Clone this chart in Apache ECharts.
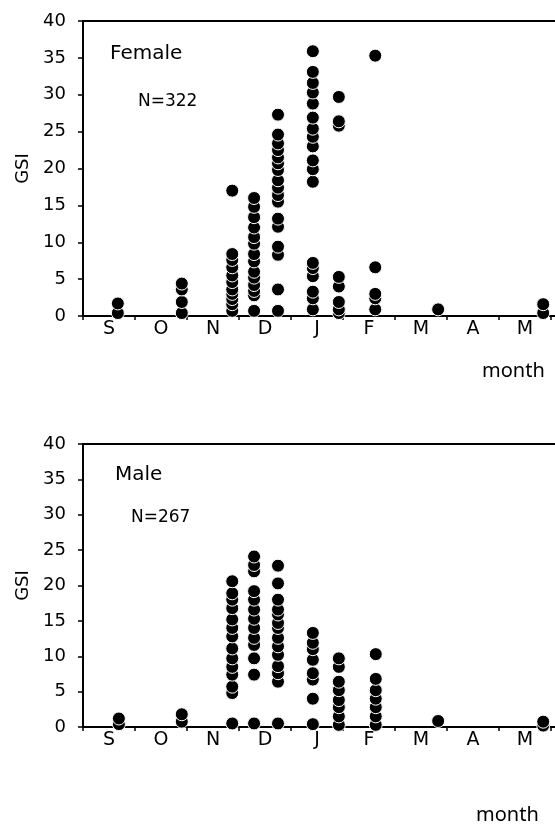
<!DOCTYPE html>
<html>
<head>
<meta charset="utf-8">
<script src="https://cdn.jsdelivr.net/npm/echarts@6/dist/echarts.min.js"></script>
<style>
  html, body { margin: 0; padding: 0; background: #fff; }
  #box { width: 555px; height: 827px; }
</style>
</head>
<body>
<div id="box"></div>
<script>
// month labels, one per band (last band is empty, runs off the right edge)
var months = ['S', 'O', 'N', 'D', 'J', 'F', 'M', 'A', 'M', '']

// sampling dates, in months from 1 Sep
var femaleDates = [0.67, 1.90, 2.87, 3.29, 3.75, 4.42, 4.92, 5.62, 6.83, 8.85]
var femaleGSI = [
    [1.7, 0.4],
    [4.4, 3.6, 1.9, 0.4],
    [17.0, 8.4, 7.6, 6.6, 5.5, 4.6, 3.6, 3.0, 2.3, 1.6, 0.7],
    [16.0, 14.8, 13.4, 12.0, 10.7, 9.8, 8.4, 7.4, 6.0, 5.2, 4.2, 3.4, 2.8, 0.7],
    [27.3, 24.6, 23.4, 22.5, 21.5, 20.7, 19.8, 18.4, 17.4, 16.4, 15.5, 13.2, 12.1, 9.4, 8.3, 3.6, 0.7],
    [35.9, 33.1, 31.6, 30.3, 28.8, 26.9, 25.4, 24.3, 23.0, 21.1, 19.9, 18.2, 7.2, 6.5, 5.4, 3.3, 2.4, 0.9],
    [29.7, 26.4, 25.8, 5.3, 4.0, 1.9, 0.9, 0.4],
    [35.3, 6.6, 3.0, 2.4, 0.9],
    [0.9],
    [1.6, 0.4]
]

var maleDates = [0.69, 1.90, 2.87, 3.29, 3.75, 4.42, 4.92, 5.63, 6.83, 8.85]
var maleGSI = [
    [1.2, 0.4],
    [1.8, 0.75],
    [20.6, 18.9, 18.0, 16.8, 15.2, 14.0, 12.8, 11.1, 9.7, 8.5, 7.4, 5.7, 4.8, 0.5],
    [24.1, 22.9, 22.0, 19.2, 18.0, 16.6, 15.3, 14.0, 12.6, 11.6, 9.7, 7.4, 0.5],
    [22.8, 20.3, 18.0, 16.6, 15.9, 14.7, 14.0, 12.6, 11.4, 10.2, 8.6, 7.6, 6.4, 0.5],
    [13.3, 11.9, 11.0, 9.5, 7.6, 6.7, 4.0, 0.4],
    [9.7, 8.5, 6.4, 5.2, 3.8, 2.8, 1.5, 0.3],
    [10.3, 6.8, 5.2, 4.0, 2.8, 1.5, 0.3],
    [0.85],
    [0.75, 0.2]
]

function toPoints(dates, vals) {
    var out = []
    for (var i = 0; i < dates.length; i++) {
        for (var j = vals[i].length - 1; j >= 0; j--) {
            out.push([dates[i], vals[i][j]])
        }
    }
    return out
}

var font = 'DejaVu Sans'
var line = { lineStyle: { color: '#000', width: 2 } }

function monthAxis(g) {
    return {
        type: 'category', gridIndex: g, data: months, boundaryGap: true,
        axisLine: line,
        axisTick: { show: true, length: 4, lineStyle: { color: '#000', width: 1.5 } },
        axisLabel: { color: '#000', fontFamily: font, fontSize: 19, margin: 4 }
    }
}
function dateAxis(g) {
    return { type: 'value', gridIndex: g, min: 0, max: 10, show: false }
}
function gsiAxis(g) {
    return {
        type: 'value', gridIndex: g, min: 0, max: 40, interval: 5,
        name: 'GSI', nameLocation: 'middle', nameGap: 51, nameRotate: 90,
        nameTextStyle: { color: '#000', fontFamily: font, fontSize: 18 },
        axisLine: { show: true, lineStyle: { color: '#000', width: 2 } },
        axisTick: { show: true, length: 5, lineStyle: { color: '#000', width: 1.5 } },
        axisLabel: { color: '#000', fontFamily: font, fontSize: 18, margin: 17 },
        splitLine: { show: false }
    }
}
function dots(x, y, data) {
    return {
        type: 'scatter', xAxisIndex: x, yAxisIndex: y, data: data,
        symbol: 'circle', symbolSize: 13,
        itemStyle: { color: '#000', borderColor: '#fff', borderWidth: 1, opacity: 1 },
        emphasis: { disabled: true }, animation: false
    }
}
function txt(x, y, s, f, size) {
    return { type: 'text', left: x, top: y, style: { text: s, fill: '#000', font: size + 'px "' + f + '"' } }
}

var chart = echarts.init(document.getElementById('box'))
chart.setOption({
    animation: false,
    grid: [
        { left: 83, top: 21, right: -48, height: 295, outerBoundsMode: 'none', show: true, borderColor: '#000', borderWidth: 2 },
        { left: 83, top: 444, right: -48, height: 283, outerBoundsMode: 'none', show: true, borderColor: '#000', borderWidth: 2 }
    ],
    xAxis: [monthAxis(0), dateAxis(0), monthAxis(1), dateAxis(1)],
    yAxis: [gsiAxis(0), gsiAxis(1)],
    series: [
        dots(1, 0, toPoints(femaleDates, femaleGSI)),
        dots(3, 1, toPoints(maleDates, maleGSI))
    ],
    graphic: [
        txt(110, 44, 'Female', font, 20),
        txt(138, 93, 'N=322', font, 17),
        txt(482, 361, 'month', 'Noto Sans', 20),
        txt(115, 465, 'Male', font, 20),
        txt(131, 509, 'N=267', font, 17),
        txt(476, 805, 'month', 'Noto Sans', 20)
    ]
})
</script>
</body>
</html>
